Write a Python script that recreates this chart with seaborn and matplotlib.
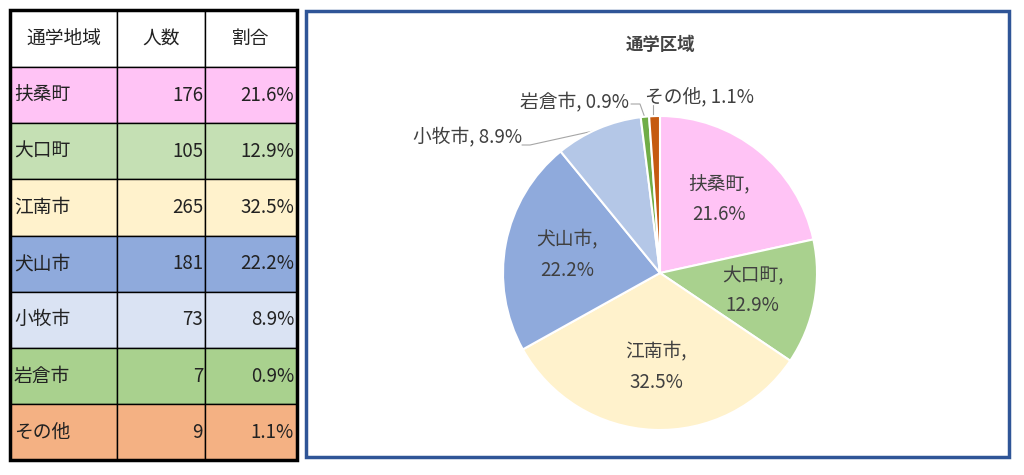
import matplotlib
matplotlib.use("Agg")
import matplotlib.pyplot as plt
import seaborn as sns
import numpy as np
from matplotlib.patches import Rectangle

sns.set_theme(style="white")
plt.rcParams["font.family"] = "Noto Sans CJK JP"

regions = ["扶桑町", "大口町", "江南市", "犬山市", "小牧市", "岩倉市", "その他"]
counts = [176, 105, 265, 181, 73, 7, 9]
shares = ["21.6%", "12.9%", "32.5%", "22.2%", "8.9%", "0.9%", "1.1%"]
headers = ["通学地域", "人数", "割合"]
pie_colors = ["#FFC3F5", "#A9D18E", "#FFF2CC", "#8FAADC", "#B4C7E7", "#70AD47", "#C55A11"]
table_colors = ["#FFC3F5", "#C5E0B4", "#FFF2CC", "#8FAADC", "#DAE3F3", "#A9D18E", "#F4B183"]

fig = plt.figure(figsize=(10.24, 4.75), dpi=100)
bg = fig.add_axes([0, 0, 1, 1])
bg.set_xlim(0, 1024); bg.set_ylim(475, 0); bg.axis("off")

FS = 13.5
cols = [10, 117, 205, 297]
top, hh, rh = 10, 57, 56.2
for j in range(3):
    bg.add_patch(Rectangle((cols[j], top), cols[j+1]-cols[j], hh, fc="white", ec="black", lw=1))
    bg.text((cols[j]+cols[j+1])/2, top+hh/2, headers[j], ha="center", va="center", fontsize=FS, color="#222")
for i, r in enumerate(regions):
    y = top + hh + i*rh
    for j in range(3):
        bg.add_patch(Rectangle((cols[j], y), cols[j+1]-cols[j], rh, fc=table_colors[i], ec="black", lw=1))
    bg.text(cols[0]+4, y+rh/2, r, ha="left", va="center", fontsize=FS, color="#222")
    bg.text(cols[2]-2, y+rh/2, str(counts[i]), ha="right", va="center", fontsize=FS, color="#222")
    bg.text(cols[3]-3, y+rh/2, shares[i], ha="right", va="center", fontsize=FS, color="#222")
bg.add_patch(Rectangle((cols[0], top), cols[3]-cols[0], hh+7*rh, fc="none", ec="black", lw=2.5))

bg.add_patch(Rectangle((306, 11), 703, 446, fc="none", ec="#2F5597", lw=2.5))
bg.text(660, 45, "通学区域", ha="center", va="center", fontsize=12.5, fontweight="bold", color="#444")

cx, cy, R = 660, 273, 157
pax = fig.add_axes([(cx-R)/1024, (475-cy-R)/475, 2*R/1024, 2*R/475])
wedges, _ = pax.pie(counts, colors=pie_colors, startangle=90, counterclock=False,
                    wedgeprops=dict(edgecolor="white", linewidth=1.5))
pax.set_xlim(-1, 1); pax.set_ylim(-1, 1)
pax.set_aspect("equal")
for i, w in enumerate(wedges[:4]):
    ang = np.deg2rad((w.theta1 + w.theta2) / 2)
    d = 0.6
    pax.text(d*np.cos(ang), d*np.sin(ang), f"{regions[i]},\n{shares[i]}", ha="center", va="center",
             fontsize=FS, color="#404040", linespacing=1.6)

bg.text(522, 138, f"{regions[4]}, {shares[4]}", ha="right", va="center", fontsize=FS, color="#404040")
bg.plot([522, 530, 598], [145, 145, 130], color="#A6A6A6", lw=0.8)
bg.text(629, 103, f"{regions[5]}, {shares[5]}", ha="right", va="center", fontsize=FS, color="#404040")
bg.plot([631, 640, 645], [104, 104, 118], color="#A6A6A6", lw=0.8)
bg.text(645, 97, f"{regions[6]}, {shares[6]}", ha="left", va="center", fontsize=FS, color="#404040")
bg.plot([653, 653], [105, 117], color="#A6A6A6", lw=0.8)

fig.savefig("out.png", dpi=100, facecolor="white")
